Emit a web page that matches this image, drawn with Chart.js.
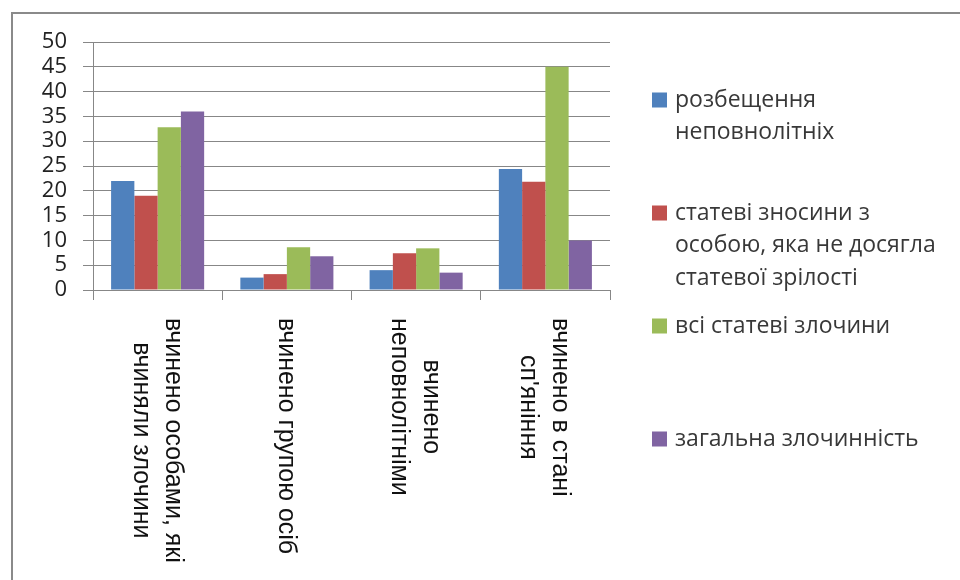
<!DOCTYPE html>
<html><head><meta charset="utf-8">
<script src="https://cdn.jsdelivr.net/npm/chart.js@4"></script>
<style>html,body{margin:0;padding:0;background:#fff}canvas{display:block}</style>
</head><body>
<canvas id="c" width="960" height="580"></canvas>
<script>
// ---- data ----
const categories = [
  ["вчинено особами, які", "вчиняли злочини"],
  ["вчинено групою осіб"],
  ["вчинено", "неповнолітніми"],
  ["вчинено в стані", "сп'яніння"]
];
const seriesNames = [
  ["розбещення", "неповнолітніх"],
  ["статеві зносини з", "особою, яка не досягла", "статевої зрілості"],
  ["всі статеві злочини"],
  ["загальна злочинність"]
];
const seriesDebauchery = [22, 2.5, 4.0, 24.4];
const seriesMinorIntercourse = [19, 3.2, 7.4, 21.8];
const seriesAllSexual = [32.8, 8.6, 8.4, 45];
const seriesTotalCrime = [36, 6.8, 3.5, 10];
const yMin = 0, yMax = 50, yStep = 5;

const colors = ['#4F81BD', '#C0504D', '#9BBB59', '#8064A2'];
const seriesValues = [seriesDebauchery, seriesMinorIntercourse, seriesAllSexual, seriesTotalCrime];

const framePlugin = {
  id: 'frame',
  beforeDraw(chart) {
    const ctx = chart.ctx;
    ctx.save();
    ctx.fillStyle = '#fff';
    ctx.fillRect(0, 0, chart.width, chart.height);
    ctx.strokeStyle = '#8a8a8a';
    ctx.lineWidth = 2;
    ctx.strokeRect(12, 13, chart.width + 20, chart.height + 20);
    ctx.restore();
  }
};

const catLabelPlugin = {
  id: 'catLabels',
  afterDraw(chart) {
    const ctx = chart.ctx;
    const xs = chart.scales.x;
    ctx.save();
    ctx.font = '25px "Liberation Sans", Arial, sans-serif';
    ctx.fillStyle = '#111';
    ctx.textAlign = 'center';
    ctx.textBaseline = 'middle';
    const top = chart.chartArea.bottom + 28;
    categories.forEach((lines, i) => {
      const x = xs.getPixelForValue(i) - 1;
      const w = Math.max(...lines.map(l => ctx.measureText(l).width));
      ctx.save();
      ctx.translate(x, top + w / 2);
      ctx.rotate(Math.PI / 2);
      const n = lines.length;
      lines.forEach((t, j) => ctx.fillText(t, 0, (j - (n - 1) / 2) * 32));
      ctx.restore();
    });
    ctx.restore();
  }
};

const legendPlugin = {
  id: 'customLegend',
  afterDraw(chart) {
    const ctx = chart.ctx;
    ctx.save();
    ctx.font = '23px "Open Sans", sans-serif';
    ctx.textBaseline = 'middle';
    ctx.textAlign = 'left';
    chart.data.datasets.forEach((ds, i) => {
      const y0 = 100 + i * 113;
      ctx.fillStyle = ds.backgroundColor;
      ctx.fillRect(652, y0 - 7.5, 15, 15);
      ctx.fillStyle = '#383838';
      seriesNames[i].forEach((t, j) => ctx.fillText(t, 675, y0 + j * 32.5));
    });
    ctx.restore();
  }
};

new Chart(document.getElementById('c'), {
  type: 'bar',
  data: {
    labels: categories,
    datasets: seriesValues.map((vals, i) => ({
      label: seriesNames[i].join(' '),
      data: vals,
      backgroundColor: colors[i],
      borderWidth: 0,
      categoryPercentage: 0.72,
      barPercentage: 1.0
    }))
  },
  options: {
    responsive: false,
    devicePixelRatio: 1,
    animation: false,
    layout: { padding: { left: 0, top: 42, right: 350, bottom: 0 } },
    plugins: { legend: { display: false }, tooltip: { enabled: false } },
    scales: {
      x: {
        ticks: { display: false },
        grid: { drawOnChartArea: false, drawTicks: true, tickLength: 10, color: '#878787', offset: true },
        border: { color: '#878787', width: 1 },
        afterFit(s) { s.height = 290; }
      },
      y: {
        min: yMin, max: yMax,
        ticks: { stepSize: yStep, autoSkip: false, padding: 16, color: '#222', font: { family: 'Open Sans', size: 22 } },
        grid: { color: '#878787', tickLength: 10 },
        border: { color: '#878787', width: 1 },
        afterFit(s) { s.width = 93; }
      }
    }
  },
  plugins: [framePlugin, catLabelPlugin, legendPlugin]
});
</script>
</body></html>
